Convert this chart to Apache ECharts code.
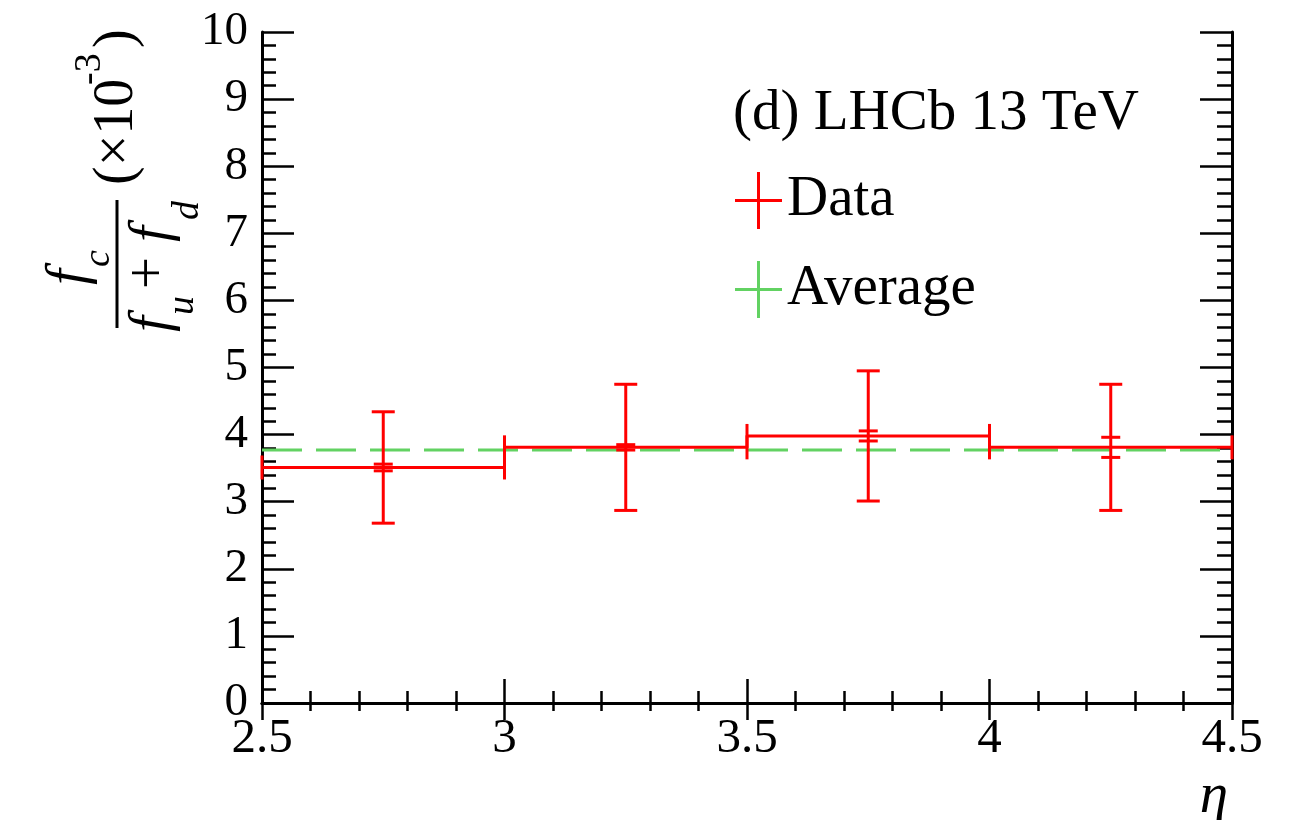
<!DOCTYPE html>
<html>
<head>
<meta charset="utf-8">
<script src="https://cdn.jsdelivr.net/npm/echarts@6/dist/echarts.min.js"></script>
<style>
html,body{margin:0;padding:0;background:#fff;overflow:hidden;}
#chart{width:1291px;height:820px;}
</style>
</head>
<body>
<div id="chart"></div>
<script>
// ---- data ----
const etaLow = [2.5, 3.0, 3.5, 4.0];
const etaHigh = [3.0, 3.5, 4.0, 4.5];
const etaCenter = [2.75, 3.25, 3.75, 4.25];
const ratioValue = [3.51, 3.81, 3.98, 3.81];
const statError = [0.05, 0.04, 0.075, 0.15];
const totalError = [0.83, 0.94, 0.97, 0.94];
const averageValue = 3.77;
const xTickLabels = ['2.5', '3', '3.5', '4', '4.5'];
const yTickLabels = ['0','1','2','3','4','5','6','7','8','9','10'];
const legendLabels = ['Data', 'Average'];
const annotation = '(d) LHCb 13 TeV';
const xTitle = 'η';

const RED = '#ff0000';
const GREEN = '#62d262';
const SERIF = '"Liberation Serif", "Times New Roman", serif';

const dataRows = etaLow.map((lo, i) => [lo, etaHigh[i], etaCenter[i], ratioValue[i], statError[i], totalError[i]]);

const chart = echarts.init(document.getElementById('chart'), null, {renderer: 'canvas'});

function renderErr(params, api) {
  const lo = api.value(0), hi = api.value(1), c = api.value(2), v = api.value(3), st = api.value(4), tot = api.value(5);
  const pLo = api.coord([lo, v]);
  const pHi = api.coord([hi, v]);
  const pC = api.coord([c, v]);
  const yTop = api.coord([c, v + tot])[1];
  const yBot = api.coord([c, v - tot])[1];
  const ySt1 = api.coord([c, v + st])[1];
  const ySt2 = api.coord([c, v - st])[1];
  const capX = 12, capY = 11.5, capS = 9.5;
  const style = {stroke: RED, lineWidth: 3, fill: null};
  const L = (x1, y1, x2, y2) => ({type: 'line', shape: {x1, y1, x2, y2}, style});
  return {
    type: 'group',
    children: [
      L(pLo[0], pLo[1], pHi[0], pHi[1]),
      L(pLo[0], pLo[1] - capX, pLo[0], pLo[1] + capX),
      L(pHi[0], pHi[1] - capX, pHi[0], pHi[1] + capX),
      L(pC[0], yTop, pC[0], yBot),
      L(pC[0] - capY, yTop, pC[0] + capY, yTop),
      L(pC[0] - capY, yBot, pC[0] + capY, yBot),
      L(pC[0] - capS, ySt1, pC[0] + capS, ySt1),
      L(pC[0] - capS, ySt2, pC[0] + capS, ySt2)
    ]
  };
}

const axisLabelY = {fontFamily: SERIF, fontSize: 47, color: '#000', margin: 14,
  formatter: (v) => yTickLabels[Math.round(v)]};
const axisLabelX = {fontFamily: SERIF, fontSize: 49, color: '#000', margin: 12,
  formatter: (v) => xTickLabels[Math.round((v - 2.5) / 0.5)]};

const option = {
  backgroundColor: '#fff',
  animation: false,
  grid: {left: 262, right: 59, top: 32, bottom: 117, containLabel: false, outerBoundsMode: 'none'},
  xAxis: [{
    type: 'value', min: 2.5, max: 4.5, interval: 0.5, position: 'bottom',
    axisLine: {show: true, lineStyle: {color: '#000', width: 3}},
    axisTick: {show: true, inside: true, length: 24, lineStyle: {color: '#000', width: 2.5}},
    minorTick: {show: true, splitNumber: 5, length: 12, lineStyle: {color: '#000', width: 2.5}},
    splitLine: {show: false},
    axisLabel: axisLabelX
  }, {
    type: 'value', min: 2.5, max: 4.5, interval: 0.5, position: 'top',
    axisLine: {show: true, lineStyle: {color: '#000', width: 3}},
    axisTick: {show: true, inside: true, length: 17, lineStyle: {color: '#000', width: 2.5}},
    minorTick: {show: true, splitNumber: 5, length: 8, lineStyle: {color: '#000', width: 2.5}},
    splitLine: {show: false},
    axisLabel: {show: false}
  }],
  yAxis: [{
    type: 'value', min: 0, max: 10, interval: 1, position: 'left',
    axisLine: {show: true, lineStyle: {color: '#000', width: 3}},
    axisTick: {show: true, inside: true, length: 32, lineStyle: {color: '#000', width: 2.5}},
    minorTick: {show: true, splitNumber: 5, length: 14, lineStyle: {color: '#000', width: 2.5}},
    splitLine: {show: false},
    axisLabel: axisLabelY
  }, {
    type: 'value', min: 0, max: 10, interval: 1, position: 'right',
    axisLine: {show: true, lineStyle: {color: '#000', width: 3}},
    axisTick: {show: true, inside: true, length: 32, lineStyle: {color: '#000', width: 2.5}},
    minorTick: {show: true, splitNumber: 5, length: 15, lineStyle: {color: '#000', width: 2.5}},
    splitLine: {show: false},
    axisLabel: {show: false}
  }],
  legend: {
    orient: 'vertical', left: 730, top: 167, padding: 5, itemWidth: 47, itemHeight: 57, itemGap: 32,
    selectedMode: false,
    textStyle: {fontFamily: SERIF, fontSize: 57, color: '#000', padding: [0, 0, 0, 0]},
    data: [
      {name: legendLabels[0], icon: 'path://M0,27h47v3h-47zM22,0h3v57h-3z', itemStyle: {color: RED, borderWidth: 0}},
      {name: legendLabels[1], icon: 'path://M0,27h47v3h-47zM22,0h3v57h-3z', itemStyle: {color: GREEN, borderWidth: 0}}
    ]
  },
  graphic: [
    {type: 'text', left: 733, top: 86, z: 100,
     style: {text: annotation, font: '57px ' + SERIF, fill: '#000'}},
    {type: 'text', x: 1228, y: 797, z: 100,
     style: {text: xTitle, font: 'italic 57px ' + SERIF, fill: '#000', align: 'right', verticalAlign: 'middle'}},
    {type: 'group', x: 0, y: 400, rotation: Math.PI / 2, z: 100, children: [
      {type: 'line', shape: {x1: 72, y1: 117, x2: 200, y2: 117}, style: {stroke: '#000', lineWidth: 3}},
      {type: 'text', x: 115, y: 70, style: {text: 'f', font: 'italic 57px ' + SERIF, fill: '#000', align: 'left', verticalAlign: 'middle'}},
      {type: 'text', x: 133, y: 99, style: {text: 'c', font: 'italic 38px ' + SERIF, fill: '#000', align: 'left', verticalAlign: 'middle'}},
      {type: 'text', x: 68, y: 153, style: {text: 'f', font: 'italic 57px ' + SERIF, fill: '#000', align: 'left', verticalAlign: 'middle'}},
      {type: 'text', x: 85, y: 183, style: {text: 'u', font: 'italic 38px ' + SERIF, fill: '#000', align: 'left', verticalAlign: 'middle'}},
      {type: 'text', x: 127, y: 150, style: {text: '+', font: '57px ' + SERIF, fill: '#000', align: 'center', verticalAlign: 'middle'}},
      {type: 'text', x: 158, y: 153, style: {text: 'f', font: 'italic 57px ' + SERIF, fill: '#000', align: 'left', verticalAlign: 'middle'}},
      {type: 'text', x: 180, y: 188, style: {text: 'd', font: 'italic 38px ' + SERIF, fill: '#000', align: 'left', verticalAlign: 'middle'}},
      {type: 'text', x: 215, y: 117, style: {text: '(×10', font: '56px ' + SERIF, fill: '#000', align: 'left', verticalAlign: 'middle'}},
      {type: 'text', x: 315, y: 90, style: {text: '-3', font: '38px ' + SERIF, fill: '#000', align: 'left', verticalAlign: 'middle'}},
      {type: 'text', x: 352, y: 117, style: {text: ')', font: '56px ' + SERIF, fill: '#000', align: 'left', verticalAlign: 'middle'}}
    ]}
  ],
  series: [
    {
      name: legendLabels[1], type: 'line', xAxisIndex: 0, yAxisIndex: 0,
      data: [[etaLow[0], averageValue], [etaHigh[etaHigh.length - 1], averageValue]],
      showSymbol: false, symbol: 'none', z: 2,
      lineStyle: {color: GREEN, width: 3, type: [40, 14]},
      itemStyle: {color: GREEN}
    },
    {
      name: legendLabels[0], type: 'custom', xAxisIndex: 0, yAxisIndex: 0,
      data: dataRows, renderItem: renderErr, z: 3,
      encode: {x: [0, 1, 2], y: [3]},
      itemStyle: {color: RED}
    }
  ]
};
chart.setOption(option);
</script>
</body>
</html>
